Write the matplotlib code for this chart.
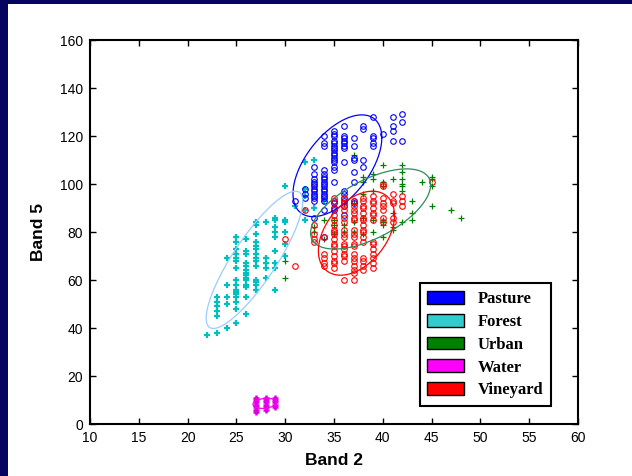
import numpy as np
import matplotlib
matplotlib.use("Agg")
import matplotlib.pyplot as plt
from matplotlib.patches import Patch, Rectangle

# ---- data ---------------------------------------------------------------
forest_x = ([22] + [23] * 6 + [24] * 5 + [25] * 16 + [26] * 14 + [27] * 14
            + [28] * 5 + [29] * 9 + [30] * 6 + [31] + [32] * 5 + [33] * 2 + [34])
forest_y = [37,
            53, 51, 49, 47, 45, 38,
            69, 58, 53, 50, 40,
            78, 76, 73, 71, 69, 68, 65, 60, 58, 56, 55, 54, 53, 51, 48, 42,
            77, 72, 71, 67, 66, 64, 63, 62, 61, 60, 58, 57, 53, 46,
            84, 83, 79, 76, 74, 73, 71, 69, 68, 66, 60, 59, 58, 56,
            84, 69, 67, 65, 61,
            86, 85, 82, 80, 78, 72, 67, 65, 56,
            99, 85, 84, 80, 75, 70,
            91,
            109, 98, 95, 89, 85,
            110, 90,
            93]

pasture_x = ([31] + [32] * 3 + [33] * 13 + [34] * 18 + [35] * 20 + [36] * 14
             + [37] * 8 + [38] * 4 + [39] * 5 + [40] + [41] * 4 + [42] * 3)
pasture_y = [93,
             98, 96, 94,
             107, 104, 102, 101, 100, 99, 98, 97, 96, 95, 94, 93, 86,
             120, 117, 116, 106, 104, 103, 102, 101, 100, 99, 98, 97, 96, 95, 94, 93, 89, 78,
             122, 121, 120, 118, 117, 116, 115, 114, 113, 112, 111, 110, 109, 107, 106, 101, 93, 92, 90, 89,
             124, 120, 119, 118, 117, 116, 115, 109, 97, 96, 94, 93, 91, 87,
             119, 116, 111, 110, 105, 101, 93, 92,
             124, 123, 110, 107,
             128, 120, 119, 117, 116,
             121,
             128, 124, 122, 118,
             129, 126, 118]

urban_x = ([30] * 2 + [33] * 2 + [34] * 2 + [35] * 3 + [36] * 3 + [37] * 4 + [38] * 5
           + [39] * 5 + [40] * 7 + [41] * 4 + [42] * 7 + [43] * 3 + [44] + [45] * 4 + [47] + [48])
urban_y = [68, 61,
           82, 80,
           85, 77,
           85, 79, 83,
           92, 83, 80,
           112, 92, 84, 80,
           103, 101, 96, 86, 79,
           104, 102, 97, 85, 80,
           108, 101, 99, 85, 84, 83, 78,
           102, 88, 82, 81,
           108, 105, 102, 100, 99, 97, 84,
           93, 88, 85,
           101,
           103, 102, 99, 91,
           89,
           86]

water_x = [27] * 7 + [28] * 6 + [29] * 5
water_y = [5, 6, 7, 8, 9, 10, 11,
           6, 7, 8, 9, 10, 11,
           7, 8, 9, 10, 11]

vine_x = ([30] + [31] + [32] + [33] * 4 + [34] * 5 + [35] * 17 + [36] * 16 + [37] * 18
          + [38] * 16 + [39] * 14 + [40] * 8 + [41] * 5 + [42] * 3 + [45])
vine_y = [77,
          66,
          89,
          83, 79, 77, 76,
          78, 71, 69, 67, 66,
          94, 93, 90, 87, 85, 83, 81, 80, 79, 77, 75, 74, 72, 70, 68, 67, 65,
          94, 92, 91, 89, 86, 84, 81, 79, 78, 75, 74, 73, 71, 70, 68, 60,
          93, 91, 89, 88, 86, 85, 81, 79, 78, 75, 74, 71, 69, 68, 66, 64, 63, 60,
          94, 93, 91, 90, 88, 86, 85, 83, 81, 80, 78, 76, 69, 68, 66, 64,
          95, 93, 92, 90, 88, 87, 85, 76, 75, 73, 71, 69, 67, 65,
          100, 99, 94, 92, 91, 89, 86, 84,
          96, 93, 92, 86, 84,
          95, 93, 91,
          101]

# class ellipses: centre, half extents and correlation (pasture, forest, urban, water, vineyard)
ell_cx = [35.35, 26.85, 38.75, 27.9, 37.3]
ell_cy = [107.6, 68.4, 89.6, 8.6, 79.5]
ell_hx = [4.55, 4.95, 6.15, 1.2, 3.9]
ell_hy = [21.2, 28.6, 16.7, 2.1, 17.5]
ell_rho = [0.55, 0.85, 0.6, 0.2, 0.42]
ell_colors = ["#0000ff", "#99ccff", "#2e8b57", "#ff00ff", "#ff0000"]

labels = ["Pasture", "Forest", "Urban", "Water", "Vineyard"]
legend_colors = ["#0000ff", "#33cccc", "#008000", "#ff00ff", "#ff0000"]

# ---- figure --------------------------------------------------------------
fig = plt.figure(figsize=(6.32, 4.76), dpi=100, facecolor="white")
navy = "#05055f"
fig.patches.append(Rectangle((0, 0), 8 / 632, 1, transform=fig.transFigure,
                             facecolor=navy, edgecolor="none", zorder=0))
fig.patches.append(Rectangle((0, 1 - 4 / 476), 1, 4 / 476, transform=fig.transFigure,
                             facecolor=navy, edgecolor="none", zorder=0))

ax = fig.add_axes([90 / 632, 1 - 424 / 476, 488 / 632, 384 / 476])

ax.plot(forest_x, forest_y, "+", color="#00bfbf", ms=4.5, mew=1.6, ls="none")
ax.plot(urban_x, urban_y, "+", color="#008000", ms=5, mew=0.9, ls="none")
ax.plot(pasture_x, pasture_y, "o", color="#0000ff", ms=4, mfc="none", mew=0.8, ls="none")
ax.plot(vine_x, vine_y, "o", color="#ff0000", ms=4, mfc="none", mew=0.8, ls="none")
ax.plot(water_x, water_y, "+", color="#e000e0", ms=4.5, mew=1.8, ls="none")

t = np.linspace(0, 2 * np.pi, 200)
for cx, cy, hx, hy, r, c in zip(ell_cx, ell_cy, ell_hx, ell_hy, ell_rho, ell_colors):
    ex = cx + hx * np.cos(t)
    ey = cy + hy * (r * np.cos(t) + np.sqrt(1 - r ** 2) * np.sin(t))
    ax.plot(ex, ey, color=c, lw=0.9)

ax.set_xlim(10, 60)
ax.set_ylim(0, 160)
ax.set_xticks(range(10, 61, 5))
ax.set_yticks(range(0, 161, 20))
ax.tick_params(direction="in", length=4, width=1, top=True, right=True,
               labelsize=10, pad=5)
for lab in ax.get_xticklabels() + ax.get_yticklabels():
    lab.set_family("Liberation Sans")
for s in ax.spines.values():
    s.set_linewidth(1.5)

ax.set_xlabel("Band 2", fontsize=12.5, fontweight="bold", family="Liberation Sans", labelpad=6)
ax.set_ylabel("Band 5", fontsize=12.5, fontweight="bold", family="Liberation Sans", labelpad=10)

handles = [Patch(facecolor=c, edgecolor="black", lw=1) for c in legend_colors]
leg = ax.legend(handles, labels, loc="lower right", bbox_to_anchor=(0.9447, 0.047),
                borderaxespad=0,
                prop={"family": "Liberation Serif", "weight": "bold", "size": 12},
                handlelength=2.2, handleheight=0.8, handletextpad=0.85,
                labelspacing=0.4, borderpad=0.45, fancybox=False, framealpha=1)
leg.get_frame().set_edgecolor("black")
leg.get_frame().set_linewidth(1.5)

fig.savefig("out.png", dpi=100, facecolor=fig.get_facecolor())
